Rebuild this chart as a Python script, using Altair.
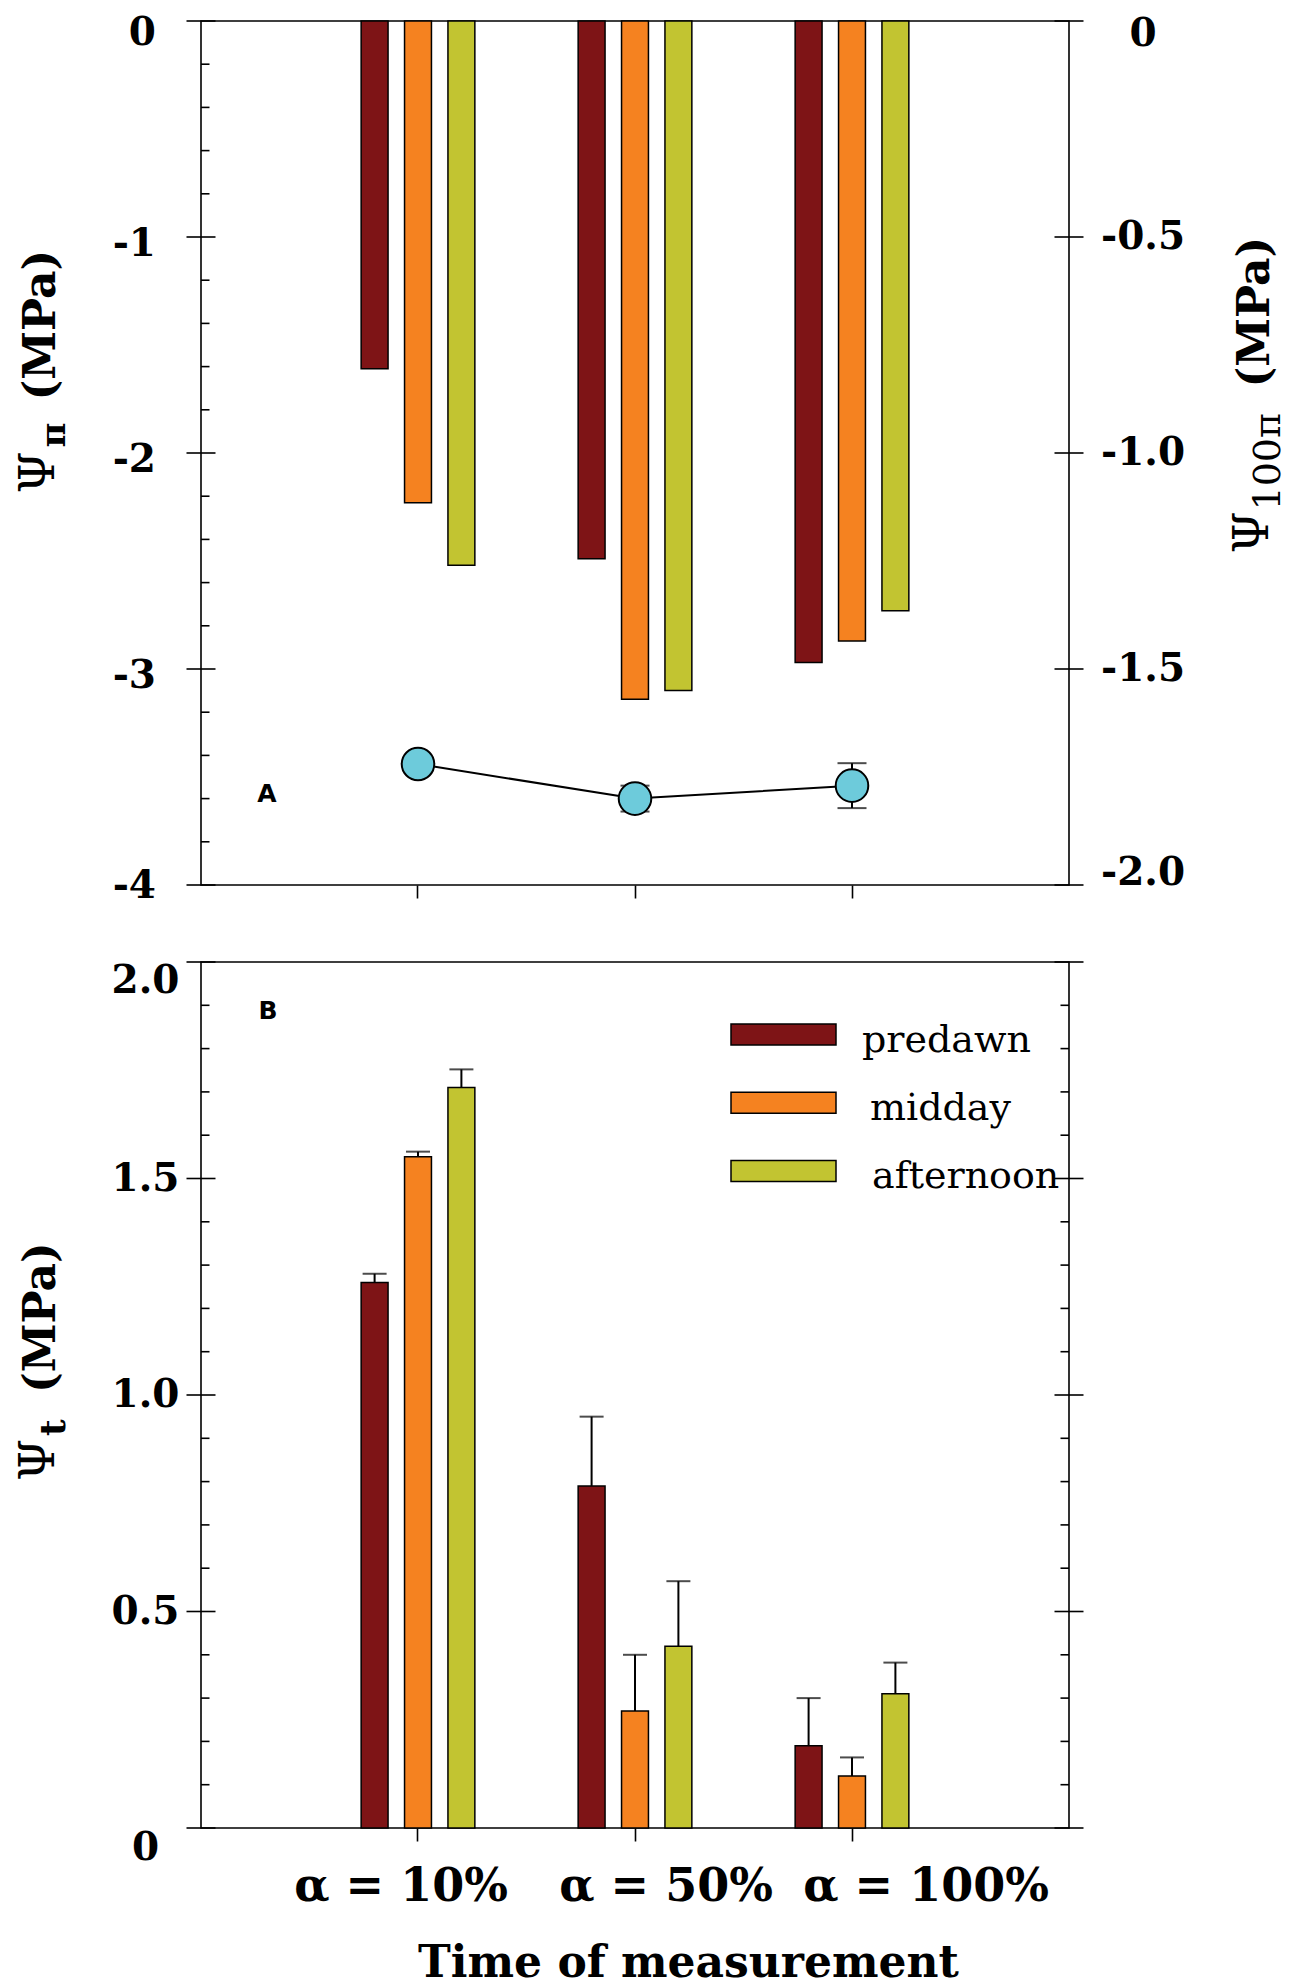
import altair as alt
import pandas as pd

# ---------------- data ----------------
CATEGORIES = ["α = 10%", "α = 50%", "α = 100%"]
TIMES = ["predawn", "midday", "afternoon"]
COLORS = ["#7E1416", "#F58220", "#C2C431"]

# Panel A (left axis): osmotic potential, MPa
PSI_PI_PREDAWN = [-1.61, -2.49, -2.97]
PSI_PI_MIDDAY = [-2.23, -3.14, -2.87]
PSI_PI_AFTERNOON = [-2.52, -3.10, -2.73]
# Panel A (right axis): osmotic potential at full turgor, MPa
PSI_100PI = [-1.72, -1.80, -1.77]
PSI_100PI_ERR = [0.015, 0.03, 0.052]

# Panel B: turgor potential, MPa
PSI_T_PREDAWN = [1.26, 0.79, 0.19]
PSI_T_MIDDAY = [1.55, 0.27, 0.12]
PSI_T_AFTERNOON = [1.71, 0.42, 0.31]
PSI_T_PREDAWN_ERR = [0.02, 0.16, 0.11]
PSI_T_MIDDAY_ERR = [0.012, 0.13, 0.043]
PSI_T_AFTERNOON_ERR = [0.042, 0.15, 0.072]

# axis ticks and tick labels
A_LEFT_MAJOR = [0, -1, -2, -3, -4]
A_LEFT_LABELS = ["0", "-1", "-2", "-3", "-4"]
A_LEFT_MINOR = [-0.2, -0.4, -0.6, -0.8, -1.2, -1.4, -1.6, -1.8, -2.2, -2.4, -2.6,
                -2.8, -3.2, -3.4, -3.6, -3.8]
A_RIGHT_MAJOR = [0, -0.5, -1.0, -1.5, -2.0]
A_RIGHT_LABELS = ["0", "-0.5", "-1.0", "-1.5", "-2.0"]
B_MAJOR = [0, 0.5, 1.0, 1.5, 2.0]
B_LABELS = ["0", "0.5", "1.0", "1.5", "2.0"]
B_MINOR = [0.1, 0.2, 0.3, 0.4, 0.6, 0.7, 0.8, 0.9, 1.1, 1.2, 1.3, 1.4, 1.6, 1.7,
           1.8, 1.9]

# ---------------- tables ----------------
def long_table(series, errs=None):
    rows = []
    for ti, (t, vals) in enumerate(zip(TIMES, series)):
        for i, (c, v) in enumerate(zip(CATEGORIES, vals)):
            row = {"alpha": c, "time": t, "value": v}
            if errs is not None:
                row["err"] = errs[ti][i]
            rows.append(row)
    return pd.DataFrame(rows)

dfA = long_table([PSI_PI_PREDAWN, PSI_PI_MIDDAY, PSI_PI_AFTERNOON])
dfB = long_table([PSI_T_PREDAWN, PSI_T_MIDDAY, PSI_T_AFTERNOON],
                 [PSI_T_PREDAWN_ERR, PSI_T_MIDDAY_ERR, PSI_T_AFTERNOON_ERR])
dfP = pd.DataFrame({"alpha": CATEGORIES, "value": PSI_100PI, "err": PSI_100PI_ERR,
                    "idx": list(range(len(CATEGORIES)))})

# ---------------- styling ----------------
W = 868
H_A = 864
H_B = 866
SERIF = "DejaVu Serif"
LW = 1.6
MAJ = 14.5
MIN = 8.5
TICK_FONT = 39

x_scale = alt.Scale(domain=CATEGORIES, paddingInner=0.4, paddingOuter=0.7)
xoff_scale = alt.Scale(domain=TIMES, paddingInner=0.38, paddingOuter=0.19)
color_scale = alt.Scale(domain=TIMES, range=COLORS)
yA_scale = alt.Scale(domain=[-4, 0], nice=False, zero=False)
yR_scale = alt.Scale(domain=[-2, 0], nice=False, zero=False)
yB_scale = alt.Scale(domain=[0, 2], nice=False, zero=False)

axisA_x = alt.Axis(labels=False, ticks=True, tickSize=13, tickWidth=LW,
                   tickColor="black", domain=False, grid=False, title=None)
axisB_x = alt.Axis(ticks=True, tickSize=13, tickWidth=LW, tickColor="black",
                   domain=False, grid=False, labelAngle=0, labelLimit=0,
                   labelFont=SERIF, labelFontWeight="bold", labelFontSize=46,
                   labelColor="black", labelPadding=23,
                   labelOffset={"condition": [
                       {"test": "datum.value === 'α = 10%'", "value": -17},
                       {"test": "datum.value === 'α = 50%'", "value": 31}],
                       "value": 74},
                   title="Time of measurement", titleFont=SERIF,
                   titleFontWeight="bold", titleFontSize=44, titleColor="black",
                   titlePadding=32, titleX=487)


def xenc(axis):
    return alt.X("alpha:N", scale=x_scale, sort=CATEGORIES, axis=axis, title=None)


def xoff():
    return alt.XOffset("time:N", scale=xoff_scale, sort=TIMES)


def tick_rules(values, scale, x1, x2):
    return alt.Chart(pd.DataFrame({"v": values})).mark_rule(
        color="black", strokeWidth=LW).encode(
        y=alt.Y("v:Q", scale=scale, axis=None),
        x=alt.value(x1), x2=alt.value(x2))


def tick_labels(values, labels, scale, x, align, dy_first, dy_mid, dy_last):
    """Tick labels drawn through the y scale; the end labels get their own nudge."""
    df = pd.DataFrame({"v": values, "lab": labels})
    first, last = values[0], values[-1]
    layers = []
    for test, dy in [(f"datum.v == {first}", dy_first),
                     (f"datum.v != {first} && datum.v != {last}", dy_mid),
                     (f"datum.v == {last}", dy_last)]:
        layers.append(alt.Chart(df).transform_filter(test).mark_text(
            font=SERIF, fontSize=TICK_FONT, fontWeight="bold", color="black",
            align=align, baseline="middle", dy=dy).encode(
            y=alt.Y("v:Q", scale=scale, axis=None), x=alt.value(x), text="lab:N"))
    return alt.layer(*layers)


def txt(text, x, y, size, weight="bold", angle=0, align="left",
        baseline="alphabetic", font=SERIF):
    return alt.Chart(pd.DataFrame({"t": [text]})).mark_text(
        font=font, fontSize=size, fontWeight=weight, angle=angle, align=align,
        baseline=baseline, color="black").encode(
        text="t:N", x=alt.value(x), y=alt.value(y))


def vtitle(main_x, sub_x, psi_y, sub, sub_y, sub_size, sub_weight, mpa_y):
    """Rotated axis title: Psi, a lowered subscript, then (MPa)."""
    return alt.layer(
        txt("Ψ", main_x, psi_y, 48, weight="normal", angle=270),
        txt(sub, sub_x, sub_y, sub_size, weight=sub_weight, angle=270),
        txt("(MPa)", main_x + 1, mpa_y, 44, weight="bold", angle=270),
    )


# ---------------- panel A ----------------
barsA = alt.Chart(dfA).mark_bar(stroke="black", strokeWidth=1.5).encode(
    x=xenc(axisA_x), xOffset=xoff(),
    y=alt.Y("value:Q", scale=yA_scale, axis=None),
    fill=alt.Fill("time:N", scale=color_scale, sort=TIMES, legend=None),
)

left_group = alt.layer(
    barsA,
    tick_rules(A_LEFT_MAJOR, yA_scale, -MAJ, MAJ),
    tick_rules(A_LEFT_MINOR, yA_scale, 0, MIN),
    tick_labels(A_LEFT_MAJOR, A_LEFT_LABELS, yA_scale, -45, "right", 12, 7, 1),
    vtitle(-147, -136, 472.5, "π", 426.5, 34, "bold", 379.5),
    txt("A", 66, 773, 25, font="DejaVu Sans", align="center", baseline="middle"),
)

base_pts = alt.Chart(dfP).transform_calculate(
    lo="datum.value - datum.err", hi="datum.value + datum.err")

lineA = base_pts.mark_line(color="black", strokeWidth=2).encode(
    x=xenc(axisA_x),
    y=alt.Y("value:Q", scale=yR_scale, axis=None),
    order="idx:Q")
errA = base_pts.mark_rule(color="black", strokeWidth=2).encode(
    x=xenc(axisA_x), y=alt.Y("lo:Q", scale=yR_scale, axis=None), y2="hi:Q")
capsA = base_pts.transform_fold(["lo", "hi"], as_=["end", "capv"]).mark_tick(
    color="black", thickness=2, size=29).encode(
    x=xenc(axisA_x), y=alt.Y("capv:Q", scale=yR_scale, axis=None))
ptsA = base_pts.mark_circle(size=1060, color="#6DCBDB", stroke="black",
                            strokeWidth=2, opacity=1).encode(
    x=xenc(axisA_x), y=alt.Y("value:Q", scale=yR_scale, axis=None))

right_group = alt.layer(
    lineA, errA, capsA, ptsA,
    tick_rules(A_RIGHT_MAJOR, yR_scale, W - MAJ, W + MAJ),
    tick_labels(A_RIGHT_MAJOR, A_RIGHT_LABELS, yR_scale, W + 74, "center", 13, 0, -12),
    vtitle(1067, 1079, 532.5, "100π", 489.5, 38, "normal", 366.5),
)

panelA = alt.layer(left_group, right_group).resolve_scale(y="independent").properties(
    width=W, height=H_A)

# ---------------- panel B ----------------
barsB = alt.Chart(dfB).mark_bar(stroke="black", strokeWidth=1.5).encode(
    x=xenc(axisB_x), xOffset=xoff(),
    y=alt.Y("value:Q", scale=yB_scale, axis=None),
    fill=alt.Fill("time:N", scale=color_scale, sort=TIMES, legend=None),
)
baseB = alt.Chart(dfB).transform_calculate(hi="datum.value + datum.err")
stemsB = baseB.mark_rule(color="black", strokeWidth=2).encode(
    x=xenc(axisB_x), xOffset=xoff(),
    y=alt.Y("value:Q", scale=yB_scale, axis=None), y2="hi:Q")
capsB = baseB.mark_tick(color="black", thickness=2, size=24).encode(
    x=xenc(axisB_x), xOffset=xoff(),
    y=alt.Y("hi:Q", scale=yB_scale, axis=None))

# legend (swatch + label per time of day)
legend_layers = []
LEG_TEXT_X = [661, 669, 671]
for i, (t, c) in enumerate(zip(TIMES, COLORS)):
    yc = 72.6 + 68.2 * i
    legend_layers.append(
        alt.Chart(pd.DataFrame({"t": [t]})).mark_rect(
            fill=c, stroke="black", strokeWidth=1.5).encode(
            x=alt.value(530), x2=alt.value(635),
            y=alt.value(yc - 10.5), y2=alt.value(yc + 10.5)))
    legend_layers.append(txt(t, LEG_TEXT_X[i], yc + 17, 38, weight="normal"))

panelB = alt.layer(
    barsB, stemsB, capsB,
    tick_rules(B_MAJOR, yB_scale, -MAJ, MAJ),
    tick_rules(B_MINOR, yB_scale, 0, MIN),
    tick_rules(B_MAJOR, yB_scale, W - MAJ, W + MAJ),
    tick_rules(B_MINOR, yB_scale, W - MIN, W),
    tick_labels(B_MAJOR, B_LABELS, yB_scale, -55.5, "center", 20, 0, 19),
    vtitle(-147, -136, 519, "t", 474, 36, "bold", 431),
    txt("B", 67, 49, 25, font="DejaVu Sans", align="center", baseline="middle"),
    *legend_layers,
).properties(width=W, height=H_B)

chart = alt.vconcat(panelA, panelB, spacing=53).properties(
    padding={"left": 7, "top": 5, "right": 2, "bottom": 2},
    background="white",
).configure_view(stroke="black", strokeWidth=LW)

chart.save("out.html", embed_options={"renderer": "svg", "actions": False})
